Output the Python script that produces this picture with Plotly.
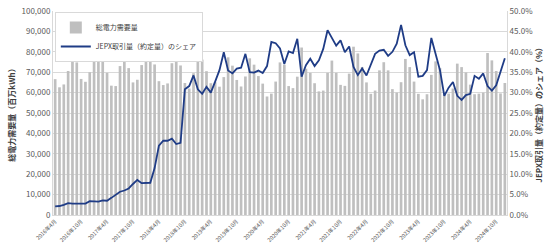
import plotly.graph_objects as go

# Months 2016年4月 .. 2024年12月
months = []
y, m = 2016, 4
while (y, m) <= (2024, 12):
    months.append(f"{y}年{m}月")
    m += 1
    if m > 12:
        m = 1
        y += 1

tick_labels = ["2016年4月", "2016年10月", "2017年4月", "2017年10月", "2018年4月", "2018年10月",
               "2019年4月", "2019年10月", "2020年4月", "2020年10月", "2021年4月", "2021年10月",
               "2022年4月", "2022年10月", "2023年4月", "2023年10月", "2024年4月", "2024年10月"]

left_ticks = [0, 10000, 20000, 30000, 40000, 50000, 60000, 70000, 80000, 90000, 100000]
right_ticks = [0.0, 0.05, 0.10, 0.15, 0.20, 0.25, 0.30, 0.35, 0.40, 0.45, 0.50]

# 総電力需要量 (百万kWh)
demand = [66600, 62600, 64000, 70600, 76600, 74800, 66700, 65300, 70000, 79000, 77000, 75000,
          69700, 63400, 63200, 73000, 77700, 72000, 65000, 66300, 73500, 82300, 80600, 73800,
          65600, 63700, 64500, 74400, 81600, 73300, 64700, 62000, 69500, 80000, 76200, 70500,
          64600, 65100, 62900, 67600, 77300, 73200, 66200, 63000, 67900, 76800, 73700, 68100,
          64400, 58100, 59500, 65400, 74800, 73600, 63200, 62200, 67800, 82100, 71700, 69700,
          64600, 60600, 61000, 69700, 75700, 69700, 63800, 63300, 69300, 82500, 79200, 72500,
          65000, 59400, 61000, 70900, 74900, 70900, 61700, 60000, 65100, 76500, 72500, 65400,
          59400, 56700, 59200, 68700, 75300, 72000, 60000, 59500, 62000, 74200, 72500, 69900,
          63900, 59200, 59500, 60000, 79400, 75800, 70600, 59600, 64700]

# JEPX取引量（約定量）のシェア (%)
share = [2.1, 2.2, 2.5, 2.9, 2.8, 2.8, 2.8, 2.8, 3.4, 3.3, 3.3, 3.6,
         3.5, 4.2, 5.0, 5.7, 6.0, 6.5, 7.6, 8.6, 7.8, 7.8, 7.9, 11.5,
         17.0, 18.2, 18.2, 18.7, 17.4, 17.7, 30.8, 31.6, 34.2, 30.8, 29.7, 31.4,
         30.0, 32.7, 35.5, 39.9, 35.4, 34.7, 35.9, 36.1, 39.5, 35.0, 34.9, 35.4,
         34.8, 36.5, 42.4, 42.1, 40.8, 37.0, 40.1, 39.7, 43.2, 33.9, 36.7, 38.3,
         36.5, 37.9, 40.7, 45.3, 43.4, 41.5, 42.8, 39.9, 41.3, 36.3, 34.3, 35.9,
         34.2, 37.0, 39.5, 40.3, 40.5, 39.0, 40.0, 42.0, 46.6, 41.6, 39.2, 39.9,
         33.9, 34.1, 35.5, 43.4, 39.3, 35.5, 29.2, 31.2, 32.6, 29.2, 28.2, 29.4,
         29.7, 34.1, 33.4, 34.7, 31.6, 30.5, 31.8, 35.1, 38.4]

share_frac = [v / 100 for v in share]

FONT = "Noto Sans CJK JP"

fig = go.Figure()
fig.add_trace(go.Bar(x=months, y=demand, name="総電力需要量",
                     marker=dict(color="#bfbfbf", line=dict(width=0)), yaxis="y"))
fig.add_trace(go.Scatter(x=months, y=share_frac, name="JEPX取引量（約定量）のシェア",
                         mode="lines", line=dict(color="#1f3c86", width=1.8), yaxis="y2"))

fig.update_layout(
    width=550, height=249,
    margin=dict(l=53, r=43, t=5, b=33, pad=0),
    paper_bgcolor="white", plot_bgcolor="white",
    font=dict(family=FONT, size=8, color="#595959"),
    bargap=0.38,
    showlegend=True,
    legend=dict(x=0.004, y=0.995, xanchor="left", yanchor="top",
                bgcolor="white", bordercolor="#d9d9d9", borderwidth=1,
                font=dict(family=FONT, size=7, color="#404040"),
                tracegroupgap=0, itemwidth=30),
    xaxis=dict(type="category", tickmode="array", tickvals=tick_labels, ticktext=tick_labels,
               tickangle=-45, tickfont=dict(size=5.5, color="#595959"),
               showgrid=False, showline=True, linecolor="#d9d9d9", linewidth=1,
               ticks="", range=[-0.5, len(months) - 0.5]),
    yaxis=dict(range=[0, 100000], tickmode="array", tickvals=left_ticks,
               ticktext=[f"{v:,}" for v in left_ticks], ticklabeloverflow="allow",
               showgrid=True, gridcolor="#d9d9d9", gridwidth=1, showline=True,
               linecolor="#d9d9d9", zeroline=False, tickfont=dict(size=8, color="#595959"),
               title=dict(text="<b>総電力需要量（百万kWh）</b>", standoff=4,
                          font=dict(size=8, color="#404040"))),
    yaxis2=dict(range=[0, 0.5], tickmode="array", tickvals=right_ticks,
                ticktext=[f"{v*100:.1f}%" for v in right_ticks], ticklabeloverflow="allow",
                overlaying="y", side="right",
                showgrid=False, showline=True, linecolor="#d9d9d9", zeroline=False,
                tickfont=dict(size=8, color="#595959"),
                title=dict(text="<b>JEPX取引量（約定量）のシェア（%）</b>", standoff=4,
                           font=dict(size=8, color="#404040"))),
)

fig.write_html("out.html")
